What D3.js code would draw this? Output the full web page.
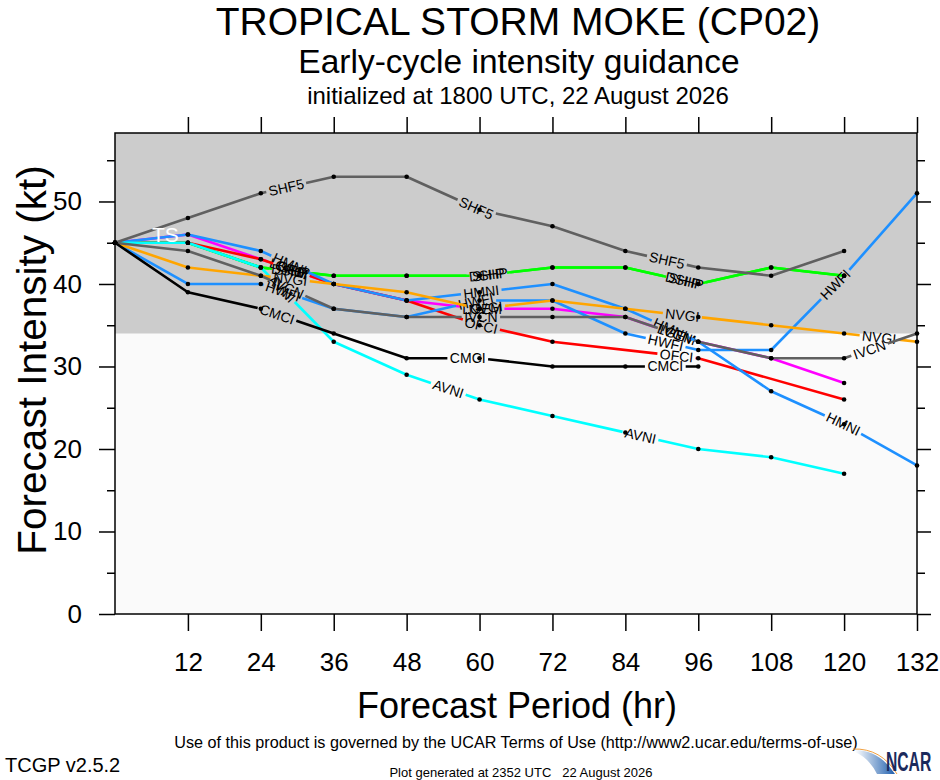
<!DOCTYPE html>
<html lang="en">
<head>
<meta charset="UTF-8">
<title>Tropical Storm Moke (CP02) - early-cycle intensity guidance</title>
<script src="https://cdn.jsdelivr.net/npm/d3@7"></script>
<style>
  body { margin: 0; background: #fff; }
  svg { display: block; font-family: "Liberation Sans", Arial, Helvetica, sans-serif; }
</style>
</head>
<body>
<div id="chart"></div>
<script>
  // forecast hours
  const hours = [0, 12, 24, 36, 48, 60, 72, 84, 96, 108, 120, 132];

  // intensity (kt) per model, null = no forecast at that hour
  const ship = [45, 45, 42, 41, 41, 41, 42, 42, 40, 42, 41, null];
  const dshp = [45, 45, 42, 41, 41, 41, 42, 42, 40, 42, 41, null];
  const lgem = [45, 46, 43, 40, 38, 37, 37, 36, 33, 31, 28, null];
  const ofci = [45, 45, 43, 40, 38, 35, 33, null, 31, null, 26, null];
  const hmni = [45, 46, 44, 40, 38, 39, 40, 37, 33, 27, 23, 18];
  const hwfi = [45, 40, 40, 37, 36, 38, 38, 34, 32, 32, 41, 51];
  const avni = [45, 45, 42, 33, 29, 26, 24, 22, 20, 19, 17, null];
  const nvgi = [45, 42, 41, 40, 39, 37, 38, 37, 36, 35, 34, 33];
  const ivcn = [45, 44, 41, 37, 36, 36, 36, 36, 33, 31, 31, 34];
  const cmci = [45, 39, 37, 34, 31, 31, 30, 30, 30, null, null, null];
  const shf5 = [45, 48, 51, 53, 53, 49, 47, 44, 42, 41, 44, null];

  // drawing order, bottom to top
  const models = ["SHIP", "DSHP", "LGEM", "OFCI", "HMNI", "HWFI", "AVNI", "NVGI", "IVCN", "CMCI", "SHF5"];
  const modelValues = [ship, dshp, lgem, ofci, hmni, hwfi, avni, nvgi, ivcn, cmci, shf5];

  // axes
  const xTicks = [12, 24, 36, 48, 60, 72, 84, 96, 108, 120, 132];
  const yTicks = [0, 10, 20, 30, 40, 50];
  const yMinorTicks = [5, 15, 25, 35, 45, 55];
  const xMax = 132;
  const yMax = 58.3;          // 1.1 x peak intensity
  const tsThreshold = 34;     // tropical storm band starts here

  // styles
  const modelColors = {
    SHIP: "#00ff00", DSHP: "#00ff00", LGEM: "#ff00ff", OFCI: "#ff0000",
    HMNI: "#1e90ff", HWFI: "#1e90ff", AVNI: "#00ffff", NVGI: "#ffa500",
    IVCN: "#606060", CMCI: "#000000", SHF5: "#606060"
  };

  const W = 940, H = 780;
  const plot = { left: 115, right: 917, top: 133, bottom: 614 };
  const labelStart = 180, labelStep = 198;   // arc length (px) of line labels
  const labelSize = 14;

  const svg = d3.select("#chart")
    .append("svg")
      .attr("width", W)
      .attr("height", H);

  const x = d3.scaleLinear().domain([0, xMax]).range([plot.left, plot.right]);
  const y = d3.scaleLinear().domain([0, yMax]).range([plot.bottom, plot.top]);

  // plot background + TS band
  svg.append("rect")
    .attr("x", plot.left).attr("y", plot.top)
    .attr("width", plot.right - plot.left).attr("height", plot.bottom - plot.top)
    .attr("fill", "#fafafa");

  svg.append("rect")
    .attr("x", plot.left).attr("y", y(yMax))
    .attr("width", plot.right - plot.left).attr("height", y(tsThreshold) - y(yMax))
    .attr("fill", "#cccccc");

  // model lines with inline labels
  const line = d3.line().x(d => x(d.h)).y(d => y(d.v));
  const lineLayer = svg.append("g");
  const dotLayer = svg.append("g");

  models.forEach((name, i) => {
    const pts = hours.map((h, j) => ({ h: h, v: modelValues[i][j] }))
                     .filter(d => d.v !== null);
    const g = lineLayer.append("g");

    const path = g.append("path")
      .datum(pts)
      .attr("d", line)
      .attr("fill", "none")
      .attr("stroke", modelColors[name])
      .attr("stroke-width", 2.6)
      .attr("stroke-linejoin", "round");

    const node = path.node();
    const len = node.getTotalLength();

    const probe = g.append("text").attr("font-size", labelSize).text(name);
    const w = probe.node().getComputedTextLength() + 5;
    probe.remove();

    const spots = [];
    for (let p = labelStart; p + w / 2 < len; p += labelStep) spots.push(p);

    // leave gaps in the line where labels sit
    if (spots.length) {
      const dash = [];
      let pos = 0;
      spots.forEach(p => {
        dash.push(p - w / 2 - pos, w);
        pos = p + w / 2;
      });
      dash.push(len - pos + 10, 0);
      path.attr("stroke-dasharray", dash.join(" "));
    }

    spots.forEach(p => {
      const c = node.getPointAtLength(p);
      const a = node.getPointAtLength(Math.max(0, p - 2));
      const b = node.getPointAtLength(Math.min(len, p + 2));
      let ang = Math.atan2(b.y - a.y, b.x - a.x) * 180 / Math.PI;
      if (ang > 90) ang -= 180;
      if (ang < -90) ang += 180;
      g.append("text")
        .attr("transform", `translate(${c.x},${c.y}) rotate(${ang})`)
        .attr("text-anchor", "middle")
        .attr("dy", "0.35em")
        .attr("font-size", labelSize)
        .attr("fill", "#000")
        .text(name);
    });

    dotLayer.selectAll(null)
      .data(pts)
      .enter()
      .append("circle")
        .attr("cx", d => x(d.h))
        .attr("cy", d => y(d.v))
        .attr("r", 2.3)
        .attr("fill", "#000");
  });

  // category label sits on top of the lines
  svg.append("text")
    .attr("x", 152).attr("y", 242)
    .attr("font-size", 21)
    .attr("fill", "#ffffff")
    .text("TS");

  // frame
  svg.append("rect")
    .attr("x", plot.left).attr("y", plot.top)
    .attr("width", plot.right - plot.left).attr("height", plot.bottom - plot.top)
    .attr("fill", "none")
    .attr("stroke", "#000")
    .attr("stroke-width", 1.5);

  function styleAxis(g) {
    g.select(".domain").remove();
    g.selectAll("line").attr("stroke", "#000").attr("stroke-width", 1.5);
    g.selectAll("text")
      .attr("font-family", "'Liberation Sans', Arial, Helvetica, sans-serif")
      .attr("font-size", 26)
      .attr("fill", "#000");
  }

  svg.append("g")
    .attr("transform", `translate(${plot.left},0)`)
    .call(d3.axisLeft(y).tickValues(yTicks).tickSize(16).tickPadding(17))
    .call(styleAxis);
  svg.append("g")
    .attr("transform", `translate(${plot.left},0)`)
    .call(d3.axisLeft(y).tickValues(yMinorTicks).tickSize(8).tickFormat(""))
    .call(styleAxis);
  svg.append("g")
    .attr("transform", `translate(${plot.right},0)`)
    .call(d3.axisRight(y).tickValues(yTicks).tickSize(14).tickFormat(""))
    .call(styleAxis);
  svg.append("g")
    .attr("transform", `translate(${plot.right},0)`)
    .call(d3.axisRight(y).tickValues(yMinorTicks).tickSize(8).tickFormat(""))
    .call(styleAxis);
  svg.append("g")
    .attr("transform", `translate(0,${plot.bottom})`)
    .call(d3.axisBottom(x).tickValues(xTicks).tickSize(17).tickPadding(22))
    .call(styleAxis);
  svg.append("g")
    .attr("transform", `translate(0,${plot.top})`)
    .call(d3.axisTop(x).tickValues(xTicks).tickSize(16).tickFormat(""))
    .call(styleAxis);

  // axis titles
  svg.append("text")
    .attr("transform", "translate(46,360) rotate(-90)")
    .attr("text-anchor", "middle")
    .attr("font-size", 40.5)
    .text("Forecast Intensity (kt)");

  svg.append("text")
    .attr("x", 517).attr("y", 718)
    .attr("text-anchor", "middle")
    .attr("font-size", 36)
    .text("Forecast Period (hr)");

  // titles
  svg.append("text")
    .attr("x", 518).attr("y", 35)
    .attr("text-anchor", "middle")
    .attr("font-size", 39)
    .text("TROPICAL STORM MOKE (CP02)");

  svg.append("text")
    .attr("x", 519).attr("y", 73)
    .attr("text-anchor", "middle")
    .attr("font-size", 33.5)
    .text("Early-cycle intensity guidance");

  svg.append("text")
    .attr("x", 518).attr("y", 104)
    .attr("text-anchor", "middle")
    .attr("font-size", 24)
    .text("initialized at 1800 UTC, 22 August 2026");

  // footer
  svg.append("text")
    .attr("x", 516).attr("y", 748)
    .attr("text-anchor", "middle")
    .attr("font-size", 16.2)
    .text("Use of this product is governed by the UCAR Terms of Use (http://www2.ucar.edu/terms-of-use)");

  svg.append("text")
    .attr("x", 5).attr("y", 772)
    .attr("font-size", 20)
    .text("TCGP v2.5.2");

  svg.append("text")
    .attr("x", 521).attr("y", 777)
    .attr("text-anchor", "middle")
    .attr("font-size", 13)
    .attr("xml:space", "preserve")
    .style("white-space", "pre")
    .text("Plot generated at 2352 UTC   22 August 2026");

  // NCAR logo
  const defs = svg.append("defs");
  const grad = defs.append("linearGradient").attr("id", "swoosh")
    .attr("x1", "0%").attr("y1", "0%").attr("x2", "100%").attr("y2", "0%");
  grad.append("stop").attr("offset", "0%").attr("stop-color", "#ffffff");
  grad.append("stop").attr("offset", "100%").attr("stop-color", "#1f5fae");

  svg.append("path")
    .attr("d", "M855,750 Q879,750 895,774 L877,774 Q869,758 855,752 Z")
    .attr("fill", "url(#swoosh)");
  svg.append("path")
    .attr("d", "M853,749 Q881,748 897,774")
    .attr("fill", "none")
    .attr("stroke", "#f0a040")
    .attr("stroke-width", 1);

  // condensed wordmark
  svg.append("text")
    .attr("transform", "translate(886,771) scale(0.58,1)")
    .attr("font-size", 27)
    .attr("font-weight", "bold")
    .attr("fill", "#1b2a5c")
    .text("NCAR");
</script>
</body>
</html>
